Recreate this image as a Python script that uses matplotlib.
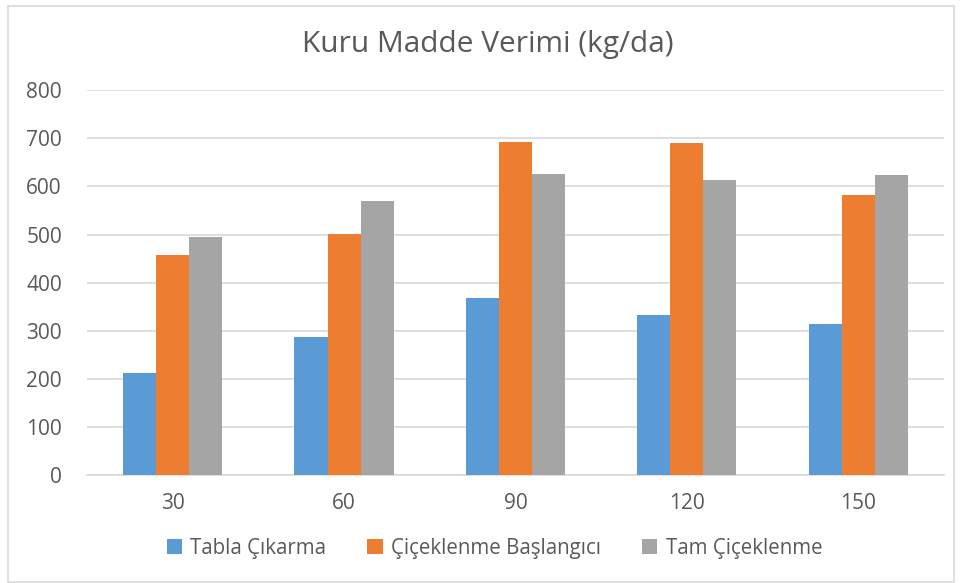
import matplotlib.pyplot as plt
import numpy as np
from matplotlib.patches import Rectangle

categories = ['30', '60', '90', '120', '150']
tabla = [213, 287, 368, 332, 314]
baslangic = [457, 502, 693, 689, 582]
tam = [495, 570, 625, 613, 623]
series_names = ['Tabla Çıkarma', 'Çiçeklenme Başlangıcı', 'Tam Çiçeklenme']
colors = ['#5B9BD5', '#ED7D31', '#A5A5A5']
yticks = [0, 100, 200, 300, 400, 500, 600, 700, 800]

plt.rcParams['font.family'] = ['Open Sans', 'DejaVu Sans']
txt = '#595959'

fig = plt.figure(figsize=(9.6, 5.83), dpi=100)
ax = fig.add_axes([0.0906, 0.1847, 0.8927, 0.6609])

# chart border
fig.patches.append(Rectangle((8 / 960, 1 / 583), 946 / 960, 576 / 583, transform=fig.transFigure,
                             fill=False, edgecolor='#D9D9D9', linewidth=1.2))

x = np.arange(len(categories))
w = 0.193
for i, (vals, name, c) in enumerate(zip([tabla, baslangic, tam], series_names, colors)):
    ax.bar(x + (i - 1) * w, vals, w, color=c, label=name, zorder=3)

ax.set_xlim(-0.5, 4.5)
ax.set_ylim(0, 800)
ax.set_yticks(yticks)
ax.set_xticks(x)
ax.set_xticklabels(categories)
ax.grid(axis='y', color='#D9D9D9', linewidth=1.2, zorder=0)
for s in ['top', 'right', 'left']:
    ax.spines[s].set_visible(False)
ax.spines['bottom'].set_color('#D9D9D9')
ax.spines['bottom'].set_linewidth(1.2)
ax.tick_params(length=0, colors=txt, labelsize=15)
ax.tick_params(axis='y', pad=18)
ax.tick_params(axis='x', pad=13)

fig.text(0.508, 0.923, 'Kuru Madde Verimi (kg/da)', ha='center', va='center', fontsize=21.5, color=txt)

leg = fig.legend(loc='center', bbox_to_anchor=(0.515, 0.06), ncol=3, frameon=False,
                 fontsize=14.8, handlelength=0.75, handleheight=0.75, handletextpad=0.4,
                 columnspacing=2.0, labelcolor=txt)

fig.savefig('out.png', dpi=100)
